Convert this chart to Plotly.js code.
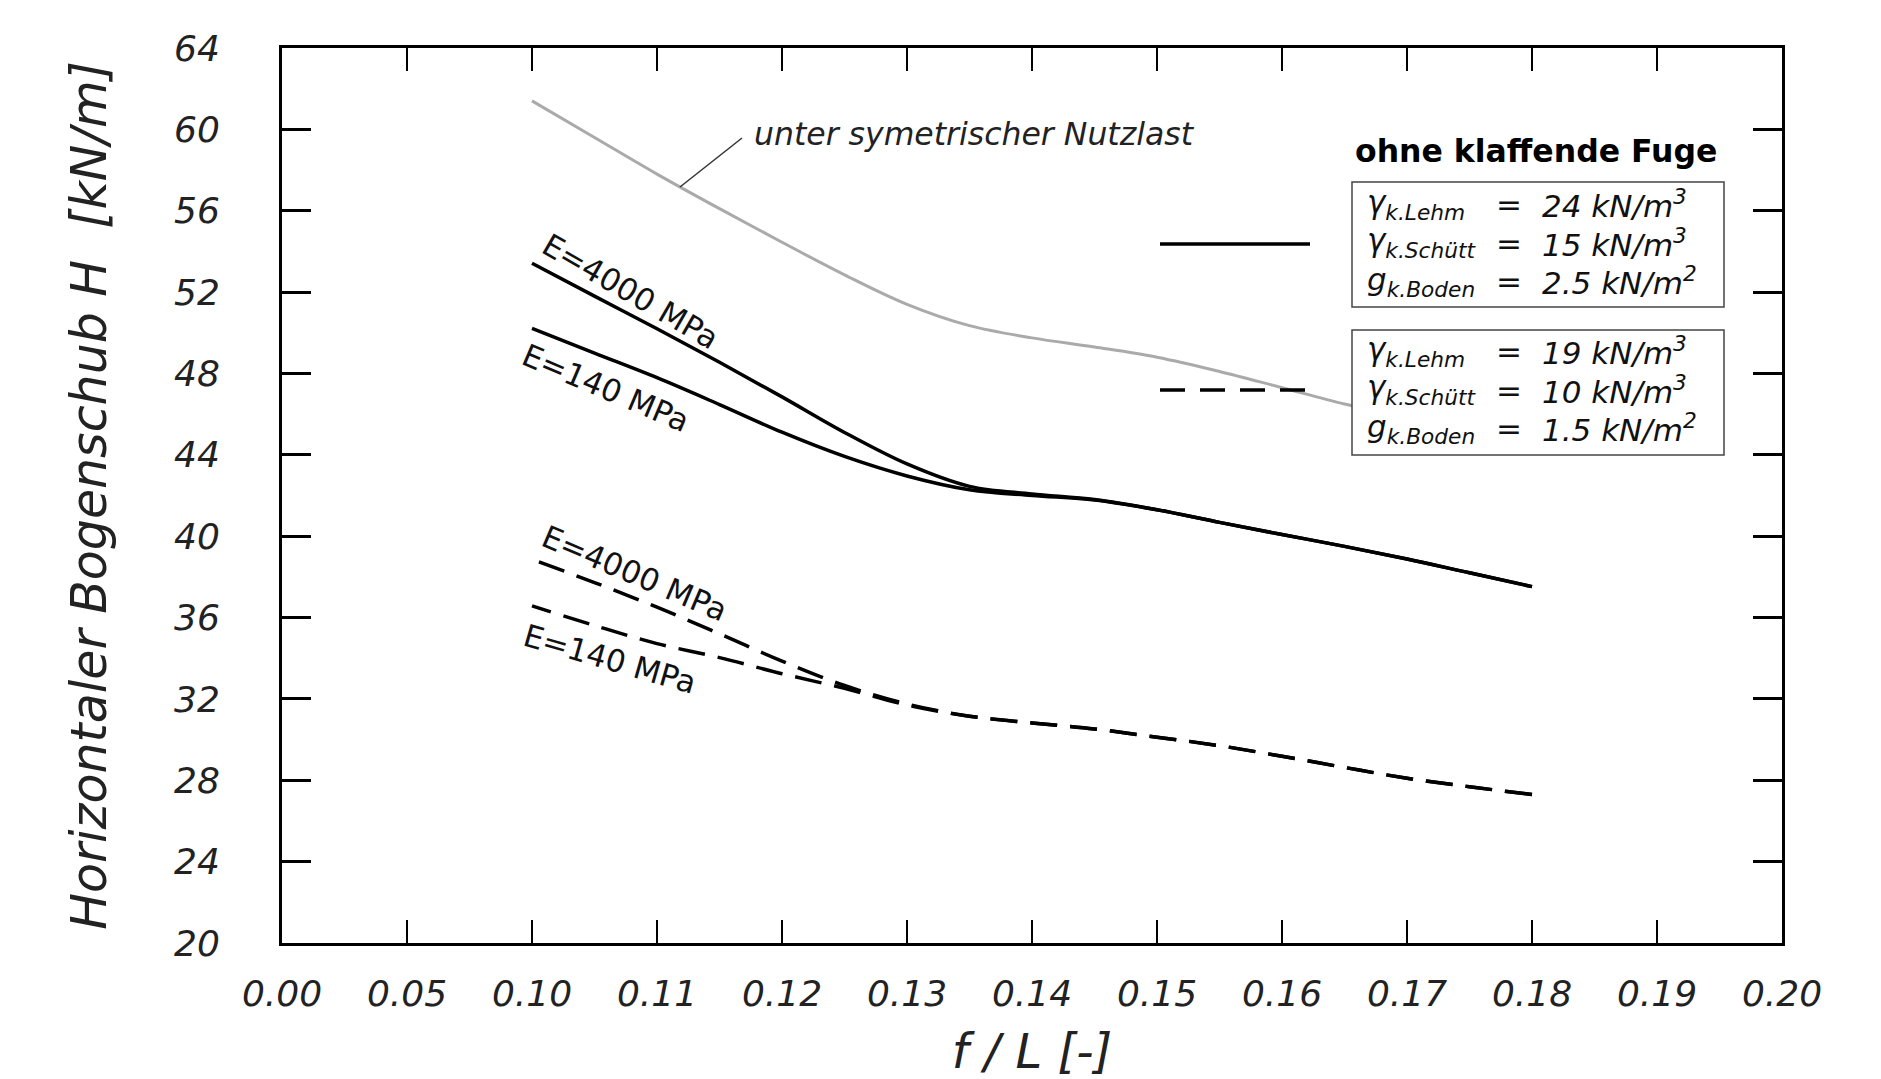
<!DOCTYPE html>
<html>
<head>
<meta charset="utf-8">
<script src="https://cdn.plot.ly/plotly-3.0.1.min.js"></script>
<style>html,body{margin:0;padding:0;background:#fff;}#chart{width:1881px;height:1079px;}</style>
</head>
<body>
<div id="chart"></div>
<script>
// ---- data ----
const fL = [0.100,0.105,0.110,0.115,0.120,0.125,0.130,0.135,0.140,0.145,0.150,0.155,0.160,0.165,0.170,0.175,0.180];
// grey: unter symetrischer Nutzlast
const H_sym = [61.4,59.6,57.8,56.1,54.45,52.85,51.4,50.35,49.75,49.3,48.8,48.1,47.3,46.5,45.8,45.1,44.4];
// solid: gamma_k.Lehm = 24, gamma_k.Schuett = 15, g_k.Boden = 2.5
const H_solid_E4000 = [53.42,51.8,50.2,48.55,46.85,45.1,43.55,42.45,42.08,41.8,41.3,40.68,40.08,39.5,38.88,38.2,37.52];
const H_solid_E140  = [50.22,49.0,47.79,46.47,45.11,43.92,42.96,42.28,42.0,41.78,41.3,40.68,40.08,39.5,38.88,38.2,37.52];
// dashed: gamma_k.Lehm = 19, gamma_k.Schuett = 10, g_k.Boden = 1.5
const H_dash_E4000 = [38.86,37.72,36.51,35.2,33.86,32.66,31.75,31.15,30.82,30.52,30.12,29.7,29.18,28.63,28.1,27.68,27.3];
const H_dash_E140  = [36.57,35.61,34.72,34.03,33.24,32.52,31.7,31.15,30.82,30.52,30.12,29.7,29.18,28.63,28.1,27.68,27.3];

const xTickVals = [0.08,0.09,0.10,0.11,0.12,0.13,0.14,0.15,0.16,0.17,0.18,0.19,0.20];
const xTickText = ['0.00','0.05','0.10','0.11','0.12','0.13','0.14','0.15','0.16','0.17','0.18','0.19','0.20'];

const legendRows1 = [['γ<sub>k.Lehm</sub>','24 kN/m<sup>3</sup>'],['γ<sub>k.Schütt</sub>','15 kN/m<sup>3</sup>'],['g<sub>k.Boden</sub>','2.5 kN/m<sup>2</sup>']];
const legendRows2 = [['γ<sub>k.Lehm</sub>','19 kN/m<sup>3</sup>'],['γ<sub>k.Schütt</sub>','10 kN/m<sup>3</sup>'],['g<sub>k.Boden</sub>','1.5 kN/m<sup>2</sup>']];

// ---- layout helpers (pixel -> paper) ----
const L = 282, R = 1782, T = 48, B = 943;
const px = v => (v - L) / (R - L);
const py = v => (B - v) / (B - T);
const FONT = 'DejaVu Sans, Verdana, sans-serif';

// drawn from the right end so that the dash phase of the merged dashed parts coincides
const rev = a => a.slice().reverse();
const smooth = 1.0;
const traces = [
  {x: fL, y: H_sym, mode: 'lines', line: {color: '#aaaaaa', width: 3, shape: 'spline', smoothing: smooth}},
  {x: fL, y: H_solid_E4000, mode: 'lines', line: {color: '#000', width: 3.5, shape: 'spline', smoothing: smooth}},
  {x: fL, y: H_solid_E140, mode: 'lines', line: {color: '#000', width: 3.5, shape: 'spline', smoothing: smooth}},
  {x: rev(fL), y: rev(H_dash_E4000), mode: 'lines', line: {color: '#000', width: 3.5, dash: '27px,13px', shape: 'spline', smoothing: smooth}},
  {x: rev(fL), y: rev(H_dash_E140), mode: 'lines', line: {color: '#000', width: 3.5, dash: '27px,13px', shape: 'spline', smoothing: smooth}}
];

const ann = [];
const labelFont = {family: FONT, size: 31, color: '#111'};
ann.push({xref:'paper', yref:'paper', x: px(630), y: py(291), text:'E=4000 MPa', showarrow:false, textangle:30, font:labelFont, xanchor:'center', yanchor:'middle'});
ann.push({xref:'paper', yref:'paper', x: px(606), y: py(388), text:'E=140 MPa', showarrow:false, textangle:23, font:labelFont, xanchor:'center', yanchor:'middle'});
ann.push({xref:'paper', yref:'paper', x: px(634), y: py(573), text:'E=4000 MPa', showarrow:false, textangle:23, font:labelFont, xanchor:'center', yanchor:'middle'});
ann.push({xref:'paper', yref:'paper', x: px(610), y: py(659), text:'E=140 MPa', showarrow:false, textangle:16, font:labelFont, xanchor:'center', yanchor:'middle'});
ann.push({xref:'paper', yref:'paper', x: px(752), y: py(134), text:'unter symetrischer Nutzlast', showarrow:false, font:{family: FONT, size: 31.5, color:'#222', style:'italic'}, xanchor:'left', yanchor:'middle'});
ann.push({xref:'paper', yref:'paper', x: px(1536), y: py(151), text:'<b>ohne klaffende Fuge</b>', showarrow:false, font:{family: FONT, size: 31.5, color:'#000'}, xanchor:'center', yanchor:'middle'});

const boxFont = {family: FONT, size: 31, color:'#111', style:'italic'};
function addRows(rows, y0) {
  rows.forEach((r, i) => {
    const y = y0 + i * 38.5;
    ann.push({xref:'paper', yref:'paper', x: px(1365), y: py(y), text: r[0], showarrow:false, font: boxFont, xanchor:'left', yanchor:'middle'});
    ann.push({xref:'paper', yref:'paper', x: px(1494), y: py(y), text: '=', showarrow:false, font: boxFont, xanchor:'left', yanchor:'middle'});
    ann.push({xref:'paper', yref:'paper', x: px(1540), y: py(y), text: r[1], showarrow:false, font: boxFont, xanchor:'left', yanchor:'middle'});
  });
}
addRows(legendRows1, 204);
addRows(legendRows2, 351);

const shapes = [
  // pointer to grey curve
  {type:'line', xref:'paper', yref:'paper', x0: px(680), y0: py(187), x1: px(742), y1: py(138), line:{color:'#333', width:1.5}, layer:'above'},
  // legend boxes
  {type:'rect', xref:'paper', yref:'paper', x0: px(1352), y0: py(182), x1: px(1724), y1: py(307), fillcolor:'#fff', line:{color:'#444', width:1.5}, layer:'above'},
  {type:'rect', xref:'paper', yref:'paper', x0: px(1352), y0: py(330), x1: px(1724), y1: py(455), fillcolor:'#fff', line:{color:'#444', width:1.5}, layer:'above'},
  // legend line samples
  {type:'line', xref:'paper', yref:'paper', x0: px(1160), y0: py(244), x1: px(1310), y1: py(244), line:{color:'#000', width:3.5}, layer:'above'},
  {type:'line', xref:'paper', yref:'paper', x0: px(1160), y0: py(390), x1: px(1310), y1: py(390), line:{color:'#000', width:3.5, dash:'25px,15px'}, layer:'above'}
];

const layout = {
  width: 1881, height: 1079,
  margin: {l: L, r: 1881 - R, t: T, b: 1079 - B},
  paper_bgcolor: '#fff', plot_bgcolor: '#fff',
  showlegend: false,
  font: {family: FONT, color: '#111'},
  xaxis: {
    range: [0.08, 0.20], tickmode: 'array', tickvals: xTickVals, ticktext: xTickText,
    ticks: 'inside', ticklen: 23, tickwidth: 2, tickcolor: '#000',
    showline: true, linewidth: 3, linecolor: '#000', mirror: 'ticks',
    showgrid: false, zeroline: false,
    tickfont: {family: FONT, size: 36, color: '#222', style: 'italic'},
    ticklabelstandoff: 17,
    title: {text: 'f / L [-]', font: {family: FONT, size: 48, color: '#222', style: 'italic'}, standoff: 22}
  },
  yaxis: {
    range: [20, 64], dtick: 4, tick0: 20,
    ticks: 'inside', ticklen: 29, tickwidth: 3, tickcolor: '#000',
    showline: true, linewidth: 3, linecolor: '#000', mirror: 'ticks',
    showgrid: false, zeroline: false,
    tickfont: {family: FONT, size: 36, color: '#222', style: 'italic'},
    ticklabelstandoff: 52,
    title: {text: 'Horizontaler Bogenschub H\u00a0\u00a0[kN/m]', font: {family: FONT, size: 49, color: '#222', style: 'italic'}, standoff: 52}
  },
  annotations: ann,
  shapes: shapes
};

Plotly.newPlot('chart', traces, layout, {displayModeBar: false, staticPlot: true});
</script>
</body>
</html>
